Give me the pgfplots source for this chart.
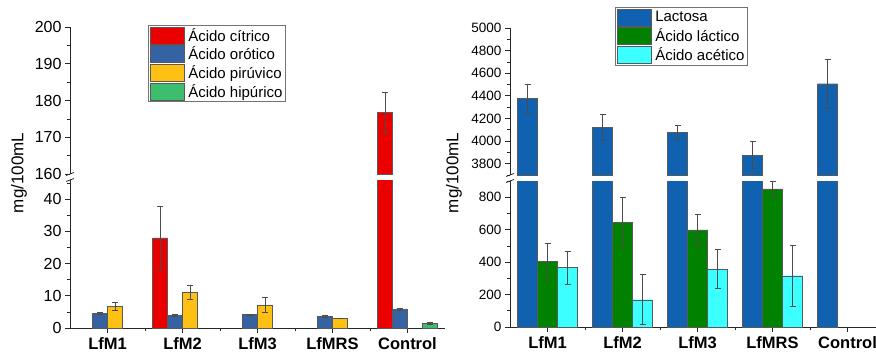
\documentclass[border=0pt]{standalone}
\usepackage{pgfplots}
\pgfplotsset{compat=1.18}
\usepackage{pgfplotstable}
\usepackage{fontspec}
\setmainfont{Liberation Sans}

\definecolor{cRed}{RGB}{235,0,0}
\definecolor{cBlue}{RGB}{52,98,163}
\definecolor{cYel}{RGB}{255,192,20}
\definecolor{cGrn}{RGB}{60,190,110}
\definecolor{lBlue}{RGB}{16,98,176}
\definecolor{lGrn}{RGB}{0,130,0}
\definecolor{lCyan}{RGB}{60,255,255}

\pgfplotstableread{
x red rede blue bluee yel yele grn grne
0 nan nan 4.6 0.2 6.8 1.3 nan nan
1 28.0 9.7 4.0 0.3 11.1 2.1 nan nan
2 nan nan 4.2 0.2 7.2 2.2 nan nan
3 nan nan 3.7 0.3 3.0 0 nan nan
4 176.8 5.4 5.7 0.3 nan nan 1.6 0.3
}\lefttab

\pgfplotstableread{
x lac lace lact lacte ace acee
0 4378 120 406 108 367 102
1 4124 115 646 155 168 154
2 4077 63 599 97 359 118
3 3876 120 851 50 316 190
4 4507 220 nan nan nan nan
}\righttab

\pgfplotsset{
  base/.style={scale only axis, width=375pt, xmin=-0.5, xmax=4.5, ybar=0pt,
    tick align=outside, major tick length=5pt, minor tick length=3pt,
    axis line style={black!85, line width=0.8pt},
    tick style={black!85, line width=0.7pt},
    /pgf/number format/assume math mode=true, /pgf/number format/1000 sep={}},
  upper/.style={base, axis x line=none, axis y line*=left, xtick=\empty,
    legend image code/.code={\draw[##1, draw=black!65] (0pt,-8.5pt) rectangle (34pt,8.5pt);},
    legend cell align=left,
    legend style={anchor=north west, draw=black!55, fill=white,
      font=\fontsize{15}{15}\selectfont, inner sep=1.5pt, row sep=1.3pt,
      nodes={inner sep=1.2pt},
      /tikz/every odd column/.append style={column sep=3pt}}},
  lower/.style={base, axis x line*=bottom, axis y line*=left,
    xtick={0,...,4}, xticklabels={LfM1,LfM2,LfM3,LfMRS,Control},
    minor xtick={0.5,1.5,2.5,3.5},
    xticklabel style={font=\fontsize{16.5}{17}\selectfont\bfseries, yshift=-1pt}},
  bstyle/.style={draw=black!65, line width=0.4pt,
    error bars/y dir=both, error bars/y explicit,
    error bars/error bar style={black!70, line width=0.6pt},
    error bars/error mark options={rotate=90, mark size=3pt, black!70, line width=0.6pt}},
}

\begin{document}
\begin{tikzpicture}
\useasboundingbox (0,0) rectangle (876pt,354pt);

% ---------- Left lower ----------
\begin{axis}[lower, at={(70pt,26pt)}, anchor=south west, height=148pt, bar width=15pt,
  ymin=0, ymax=46, ytick={0,10,20,30,40}, minor ytick={5,15,25,35,45},
  yticklabel style={font=\fontsize{16}{16}\selectfont}]
\addplot[bstyle, bar shift=-22.5pt, fill=cRed] table[x=x,y=red,y error=rede]{\lefttab};
\addplot[bstyle, bar shift=-7.5pt, fill=cBlue] table[x=x,y=blue,y error=bluee]{\lefttab};
\addplot[bstyle, bar shift=7.5pt, fill=cYel] table[x=x,y=yel,y error=yele]{\lefttab};
\addplot[bstyle, bar shift=22.5pt, fill=cGrn] table[x=x,y=grn,y error=grne]{\lefttab};
\end{axis}

% ---------- Left upper ----------
\begin{axis}[upper, at={(70pt,180pt)}, anchor=south west, height=147pt, bar width=15pt,
  ymin=160, ymax=200, ytick={160,170,...,200}, minor ytick={165,175,185,195},
  yticklabel style={font=\fontsize{16}{16}\selectfont},
  legend style={at={(0.208,1.014)}, name=legL}]
\addplot[bstyle, bar shift=-22.5pt, fill=cRed, restrict y to domain=100:400, forget plot] table[x=x,y=red,y error=rede]{\lefttab};
\addlegendimage{fill=cRed}
\addlegendentry{Ácido cítrico}
\addlegendimage{fill=cBlue}
\addlegendentry{Ácido orótico}
\addlegendimage{fill=cYel}
\addlegendentry{Ácido pirúvico}
\addlegendimage{fill=cGrn}
\addlegendentry{Ácido hipúrico}
\end{axis}
\draw[black!55, line width=0.7pt] (legL.south west) rectangle (legL.north east);

% ---------- Right lower ----------
\begin{axis}[lower, at={(510pt,27pt)}, anchor=south west, height=146pt, bar width=20pt,
  ymin=0, ymax=900, ytick={0,200,...,800}, minor ytick={100,300,500,700,900},
  yticklabel style={font=\fontsize{13.5}{14}\selectfont}]
\addplot[bstyle, bar shift=-20pt, fill=lBlue] table[x=x,y=lac,y error=lace]{\righttab};
\addplot[bstyle, bar shift=0pt, fill=lGrn] table[x=x,y=lact,y error=lacte]{\righttab};
\addplot[bstyle, bar shift=20pt, fill=lCyan] table[x=x,y=ace,y error=acee]{\righttab};
\end{axis}

% ---------- Right upper ----------
\begin{axis}[upper, at={(510pt,179pt)}, anchor=south west, height=147pt, bar width=20pt,
  ymin=3700, ymax=5000, ytick={3800,4000,...,5000}, minor ytick={3700,3900,...,4900},
  yticklabel style={font=\fontsize{13.5}{14}\selectfont},
  legend style={at={(0.28,1.143)}, name=legR}]
\addplot[bstyle, bar shift=-20pt, fill=lBlue, forget plot] table[x=x,y=lac,y error=lace]{\righttab};
\addlegendimage{fill=lBlue}
\addlegendentry{Lactosa}
\addlegendimage{fill=lGrn}
\addlegendentry{Ácido láctico}
\addlegendimage{fill=lCyan}
\addlegendentry{Ácido acético}
\end{axis}
\draw[black!55, line width=0.7pt] (legR.south west) rectangle (legR.north east);

% break marks
\draw[black!85, line width=0.8pt] (66pt,178.5pt)--(74pt,181.5pt);
\draw[black!85, line width=0.8pt] (66pt,172.5pt)--(74pt,175.5pt);
\draw[black!85, line width=0.8pt] (506pt,177.5pt)--(514pt,180.5pt);
\draw[black!85, line width=0.8pt] (506pt,171.5pt)--(514pt,174.5pt);

% y labels
\node[rotate=90, font=\fontsize{17}{17}\selectfont] at (19pt,181pt) {mg/100mL};
\node[rotate=90, font=\fontsize{17}{17}\selectfont] at (454pt,181pt) {mg/100mL};
\end{tikzpicture}
\end{document}
